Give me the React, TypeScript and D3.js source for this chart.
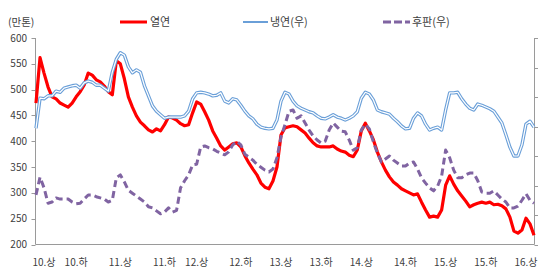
import React, { useEffect } from 'react';
import * as d3 from 'd3';

const W = 538;
const H = 267;

// 열연 (left axis, 만톤)
const hotRolled = [
  474, 562, 532, 505, 486, 482, 474, 470, 466, 474,
  486, 496, 509, 532, 528, 519, 515, 507, 496, 490,
  556, 550, 521, 486, 466, 449, 437, 430, 422, 418,
  424, 420, 432, 447, 445, 441, 434, 430, 432, 455,
  476, 472, 457, 441, 420, 406, 391, 383, 389, 395,
  397, 389, 372, 358, 346, 335, 319, 311, 308, 323,
  350, 412, 426, 428, 430, 428, 422, 416, 406, 397,
  391, 389, 389, 389, 391, 385, 381, 379, 373, 370,
  383, 420, 435, 420, 403, 379, 360, 344, 331, 321,
  315, 308, 304, 300, 296, 298, 282, 267, 253, 255,
  253, 267, 315, 333, 317, 304, 294, 284, 273, 277,
  280, 282, 280, 282, 277, 278, 275, 269, 253, 226,
  222, 228, 251, 240, 218,
];

// 냉연 (right axis)
const coldRolled = [
  297, 348, 347, 352, 352, 360, 358, 365, 367, 369,
  370, 365, 374, 377, 375, 370, 370, 365, 360, 392,
  414, 425, 421, 401, 391, 396, 392, 369, 352, 335,
  326, 320, 314, 316, 316, 316, 316, 318, 326, 347,
  357, 358, 357, 355, 352, 353, 357, 343, 340, 347,
  345, 336, 326, 318, 313, 304, 299, 297, 296, 297,
  311, 343, 358, 355, 343, 335, 331, 328, 325, 323,
  318, 314, 313, 316, 320, 316, 314, 311, 314, 318,
  325, 348, 358, 355, 345, 328, 325, 323, 321, 314,
  308, 301, 296, 297, 314, 323, 318, 304, 294, 297,
  299, 294, 328, 357, 357, 358, 347, 338, 331, 328,
  338, 336, 333, 330, 326, 316, 306, 286, 265, 250,
  250, 269, 304, 309, 299,
];

// 후판 (right axis)
const plate = [
  184, 214, 196, 170, 172, 179, 177, 177, 177, 172,
  169, 170, 177, 184, 184, 181, 179, 177, 172, 175,
  213, 218, 206, 192, 187, 182, 177, 172, 164, 162,
  157, 152, 155, 162, 155, 158, 196, 208, 218, 235,
  236, 265, 267, 264, 262, 258, 255, 252, 257, 269,
  275, 269, 253, 248, 243, 236, 231, 226, 223, 228,
  247, 282, 303, 326, 328, 314, 318, 306, 294, 284,
  277, 272, 275, 294, 306, 299, 292, 291, 277, 260,
  264, 294, 304, 296, 274, 255, 240, 245, 250, 243,
  238, 233, 233, 238, 240, 228, 213, 204, 196, 191,
  199, 216, 260, 247, 226, 213, 213, 218, 221, 221,
  208, 189, 187, 187, 191, 184, 177, 172, 162, 162,
  165, 175, 186, 175, 170,
];

const xLabels = ['10.상', '10.하', '11.상', '11.하', '12.상', '12.하', '13.상', '13.하', '14.상', '14.하', '15.상', '15.하', '16.상'];
const xLabelIdx = [2, 10, 21, 32, 40, 51, 61, 71, 81, 92, 102, 112, 122];
const leftTicks = [200, 250, 300, 350, 400, 450, 500, 550, 600];
const rightTicks = [100, 150, 200, 250, 300, 350, 400, 450];

const FONT = '"Noto Sans CJK KR", "Noto Sans", sans-serif';
const RED = '#ff0000';
const BLUE = '#6a9fd8';
const PURPLE = '#8064a2';
const AXIS = '#9a9a9a';
const TEXT = '#404040';

const App = () => {
  useEffect(() => {
    document.body.style.margin = '0';
    document.body.style.overflow = 'hidden';
  }, []);

  const left = 35.5, right = 534.5, top = 38, bottom = 244.5;

  const x = d3.scaleLinear().domain([0, hotRolled.length - 1]).range([left + 0.5, right - 0.5]);
  const yL = d3.scaleLinear().domain([200, 600]).range([bottom, top]);
  const yR = d3.scaleLinear().domain([100, 450]).range([bottom, top]);

  const lineL = d3.line<number>().x((_, i) => x(i)).y(d => yL(d));
  const lineR = d3.line<number>().x((_, i) => x(i)).y(d => yR(d));

  return (
    <svg width={W} height={H} style={{ display: 'block', background: '#fff' }} fontFamily={FONT}>
      {/* unit label */}
      <text x={8} y={26} fontSize={10.5} fill={TEXT}>(만톤)</text>

      {/* legend */}
      <g fontSize={11} fill={TEXT}>
        <line x1={120} x2={147} y1={22} y2={22} stroke={RED} strokeWidth={3} />
        <text x={150} y={26}>열연</text>
        <line x1={243} x2={268} y1={22} y2={22} stroke={BLUE} strokeWidth={2} />
        <text x={270} y={26}>냉연(우)</text>
        <line x1={383} x2={410} y1={22} y2={22} stroke={PURPLE} strokeWidth={3} strokeDasharray="8,3" />
        <text x={412} y={26}>후판(우)</text>
      </g>

      {/* left axis */}
      <g>
        <line x1={left} x2={left} y1={top} y2={bottom} stroke={AXIS} />
        {leftTicks.map(t => (
          <g key={t}>
            <line x1={left - 4} x2={left} y1={Math.round(yL(t)) + 0.5} y2={Math.round(yL(t)) + 0.5} stroke={AXIS} />
            <text x={27} y={yL(t)} dy="0.35em" textAnchor="end" fontSize={10} fill={TEXT}>{t}</text>
          </g>
        ))}
      </g>

      {/* right axis (labels cut off) */}
      <g>
        <line x1={right} x2={right} y1={top} y2={bottom} stroke={AXIS} />
        {rightTicks.map(t => (
          <line key={t} x1={right} x2={right + 4} y1={Math.round(yR(t)) + 0.5} y2={Math.round(yR(t)) + 0.5} stroke={AXIS} />
        ))}
      </g>

      {/* bottom axis */}
      <line x1={left} x2={right} y1={bottom} y2={bottom} stroke={AXIS} />
      {xLabels.map((lab, i) => (
        <text key={lab} x={x(xLabelIdx[i])} y={262} dy="0.35em" textAnchor="middle" fontSize={10} fill={TEXT}>{lab}</text>
      ))}

      {/* 열연 */}
      <path d={lineL(hotRolled) || ''} fill="none" stroke={RED} strokeWidth={3.2} strokeLinejoin="round" />

      {/* 냉연 double line */}
      <path d={lineR(coldRolled) || ''} fill="none" stroke={BLUE} strokeWidth={3.4} strokeLinejoin="round" />
      <path d={lineR(coldRolled) || ''} fill="none" stroke="#fff" strokeWidth={1.2} strokeLinejoin="round" />

      {/* 후판 */}
      <path d={lineR(plate) || ''} fill="none" stroke={PURPLE} strokeWidth={3} strokeDasharray="7,4" strokeLinejoin="round" />
    </svg>
  );
};

export default App;
